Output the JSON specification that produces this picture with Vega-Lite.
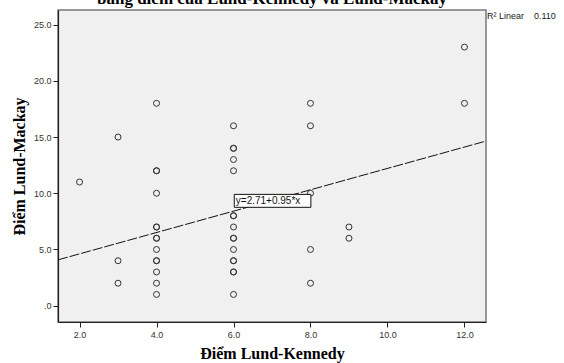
{
  "$schema": "https://vega.github.io/schema/vega-lite/v6.json",
  "width": 428,
  "height": 312,
  "autosize": {"type": "none"},
  "padding": {"left": 58, "top": 10, "right": 78, "bottom": 41},
  "background": "white",
  "title": {
    "text": "bảng điểm của Lund-Kennedy và Lund-Mackay",
    "font": "Liberation Serif",
    "fontSize": 17,
    "fontWeight": "bold",
    "color": "black",
    "anchor": "middle",
    "baseline": "alphabetic",
    "offset": 0,
    "dy": 11
  },
  "config": {
    "view": {"fill": "#f0f0f0", "stroke": "#777", "strokeWidth": 1.5},
    "axis": {
      "grid": false,
      "domain": true,
      "domainColor": "#222",
      "domainWidth": 1.2,
      "tickColor": "#222",
      "tickSize": 5,
      "labelFont": "Liberation Sans",
      "labelFontSize": 9,
      "labelColor": "#333",
      "labelPadding": 3,
      "titleFont": "Liberation Serif",
      "titleFontSize": 16,
      "titleFontWeight": "bold",
      "titleColor": "black"
    }
  },
  "datasets": {
    "points": [
      {"lk": 2, "lm": 11},
      {"lk": 3, "lm": 15}, {"lk": 3, "lm": 4}, {"lk": 3, "lm": 2},
      {"lk": 4, "lm": 18}, {"lk": 4, "lm": 12}, {"lk": 4, "lm": 12}, {"lk": 4, "lm": 10},
      {"lk": 4, "lm": 7}, {"lk": 4, "lm": 7}, {"lk": 4, "lm": 6}, {"lk": 4, "lm": 6},
      {"lk": 4, "lm": 5}, {"lk": 4, "lm": 4}, {"lk": 4, "lm": 4}, {"lk": 4, "lm": 3},
      {"lk": 4, "lm": 2}, {"lk": 4, "lm": 1},
      {"lk": 6, "lm": 16}, {"lk": 6, "lm": 14}, {"lk": 6, "lm": 14}, {"lk": 6, "lm": 13},
      {"lk": 6, "lm": 12}, {"lk": 6, "lm": 8}, {"lk": 6, "lm": 8}, {"lk": 6, "lm": 7},
      {"lk": 6, "lm": 6}, {"lk": 6, "lm": 6}, {"lk": 6, "lm": 5}, {"lk": 6, "lm": 4},
      {"lk": 6, "lm": 4}, {"lk": 6, "lm": 3}, {"lk": 6, "lm": 3}, {"lk": 6, "lm": 1},
      {"lk": 8, "lm": 18}, {"lk": 8, "lm": 16}, {"lk": 8, "lm": 10}, {"lk": 8, "lm": 5},
      {"lk": 8, "lm": 2},
      {"lk": 9, "lm": 7}, {"lk": 9, "lm": 6},
      {"lk": 12, "lm": 23}, {"lk": 12, "lm": 18}
    ],
    "fit": [
      {"lk": 1.44, "lm": 4.078},
      {"lk": 12.56, "lm": 14.642}
    ]
  },
  "layer": [
    {
      "data": {"name": "fit"},
      "mark": {"type": "line", "color": "#111", "strokeWidth": 1, "strokeDash": [10, 2]},
      "encoding": {
        "x": {
          "field": "lk", "type": "quantitative",
          "scale": {"domain": [1.44, 12.56], "nice": false, "zero": false},
          "axis": {
            "values": [2, 4, 6, 8, 10, 12],
            "labelExpr": "format(datum.value, '.1f')",
            "title": "Điểm Lund-Kennedy",
            "titlePadding": 6
          }
        },
        "y": {
          "field": "lm", "type": "quantitative",
          "scale": {"domain": [-1.45, 26.3], "nice": false, "zero": false},
          "axis": {
            "values": [0, 5, 10, 15, 20, 25],
            "labelExpr": "datum.value == 0 ? '.0' : format(datum.value, '.1f')",
            "title": "Điểm Lund-Mackay",
            "titlePadding": 6,
            "labelPadding": 2
          }
        }
      }
    },
    {
      "data": {"name": "points"},
      "mark": {"type": "point", "shape": "circle", "filled": false, "color": "#333", "size": 36, "strokeWidth": 1, "opacity": 1},
      "encoding": {
        "x": {"field": "lk", "type": "quantitative"},
        "y": {"field": "lm", "type": "quantitative"}
      }
    },
    {
      "data": {"values": [{}]},
      "mark": {"type": "rect", "fill": "white", "stroke": "#111", "strokeWidth": 1},
      "encoding": {
        "x": {"datum": 6.02, "type": "quantitative"},
        "x2": {"datum": 8.01},
        "y": {"datum": 9.9, "type": "quantitative"},
        "y2": {"datum": 8.75}
      }
    },
    {
      "data": {"values": [{}]},
      "mark": {"type": "text", "align": "left", "baseline": "middle", "font": "Liberation Sans", "fontSize": 10, "color": "#111"},
      "encoding": {
        "x": {"datum": 6.06, "type": "quantitative"},
        "y": {"datum": 9.32, "type": "quantitative"},
        "text": {"value": "y=2.71+0.95*x"}
      }
    },
    {
      "data": {"values": [{}]},
      "mark": {"type": "text", "align": "left", "baseline": "middle", "font": "Liberation Sans", "fontSize": 9, "color": "#222", "dx": 1},
      "encoding": {
        "x": {"datum": 12.56, "type": "quantitative"},
        "y": {"datum": 25.8, "type": "quantitative"},
        "text": {"value": "R² Linear\u00a0\u00a0\u00a0\u00a00.110"}
      }
    }
  ]
}
